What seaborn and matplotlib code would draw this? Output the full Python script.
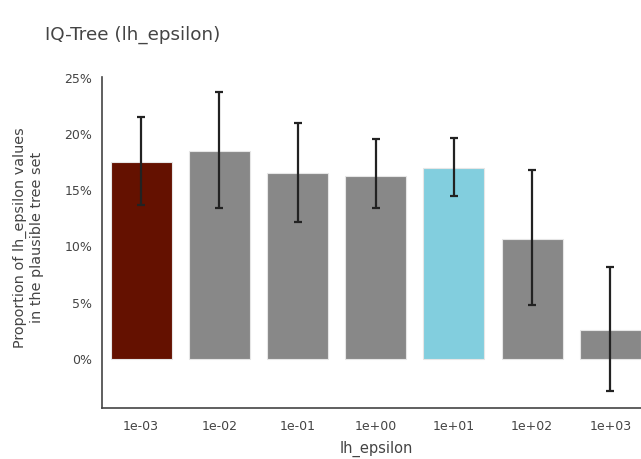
import matplotlib
matplotlib.use("Agg")
import matplotlib.pyplot as plt
import seaborn as sns
import pandas as pd
from matplotlib.ticker import FuncFormatter

categories = ["1e-03", "1e-02", "1e-01", "1e+00", "1e+01", "1e+02", "1e+03"]
values = [17.5, 18.5, 16.5, 16.3, 17.0, 10.7, 2.6]
err_upper = [21.5, 23.75, 20.95, 19.5, 19.6, 16.8, 8.15]
err_lower = [13.7, 13.4, 12.2, 13.4, 14.5, 4.8, -2.85]
colors = ["#641100", "#888888", "#888888", "#888888", "#82CEDE", "#888888", "#888888"]

df = pd.DataFrame({"lh_epsilon": categories, "value": values})

sns.set_style("white")
plt.rcParams["font.family"] = ["DejaVu Sans"]
text_color = "#444444"

W, H = 641, 459
fig = plt.figure(figsize=(W / 100, H / 100), dpi=100)
left, right, top, bottom = 102, 649.5, 77, 408
ax = fig.add_axes([left / W, 1 - bottom / H, (right - left) / W, (bottom - top) / H])

sns.barplot(data=df, x="lh_epsilon", y="value", hue="lh_epsilon",
            palette=colors, order=categories, hue_order=categories,
            width=0.78, errorbar=None, legend=False, ax=ax, saturation=1,
            edgecolor="#e6e6e6", linewidth=0.8)

xs = list(range(len(categories)))
yerr = [[v - lo for v, lo in zip(values, err_lower)],
        [hi - v for v, hi in zip(values, err_upper)]]
ax.errorbar(xs, values, yerr=yerr, fmt="none", ecolor="#222222",
            elinewidth=1.6, capsize=3, capthick=1.6, zorder=5)

ax.set_xlim(-0.5, 6.5)
ax.set_ylim(-4.35, 25.05)
ax.set_yticks([0, 5, 10, 15, 20, 25])
ax.yaxis.set_major_formatter(FuncFormatter(lambda v, p: f"{v:.0f}%"))

for s in ["top", "right"]:
    ax.spines[s].set_visible(False)
for s in ["left", "bottom"]:
    ax.spines[s].set_color(text_color)
    ax.spines[s].set_linewidth(1.2)

ax.tick_params(axis="both", which="major", labelsize=9, labelcolor=text_color,
               length=5, width=1, color=text_color, direction="out")
ax.tick_params(axis="x", pad=4, color="#999999")
ax.tick_params(axis="y", pad=2)

ax.set_xlabel("lh_epsilon", fontsize=10.5, color=text_color)
ax.xaxis.set_label_coords(0.501, -0.100)
ax.set_ylabel("Proportion of lh_epsilon values\nin the plausible tree set",
              fontsize=10.4, color=text_color, linespacing=1.3)
ax.yaxis.set_label_coords(-0.106, 0.514)

fig.text(45 / W, 1 - 35 / H, "IQ-Tree (lh_epsilon)", fontsize=13.2,
         color=text_color, va="center", ha="left")

fig.savefig("out.png", dpi=100)
